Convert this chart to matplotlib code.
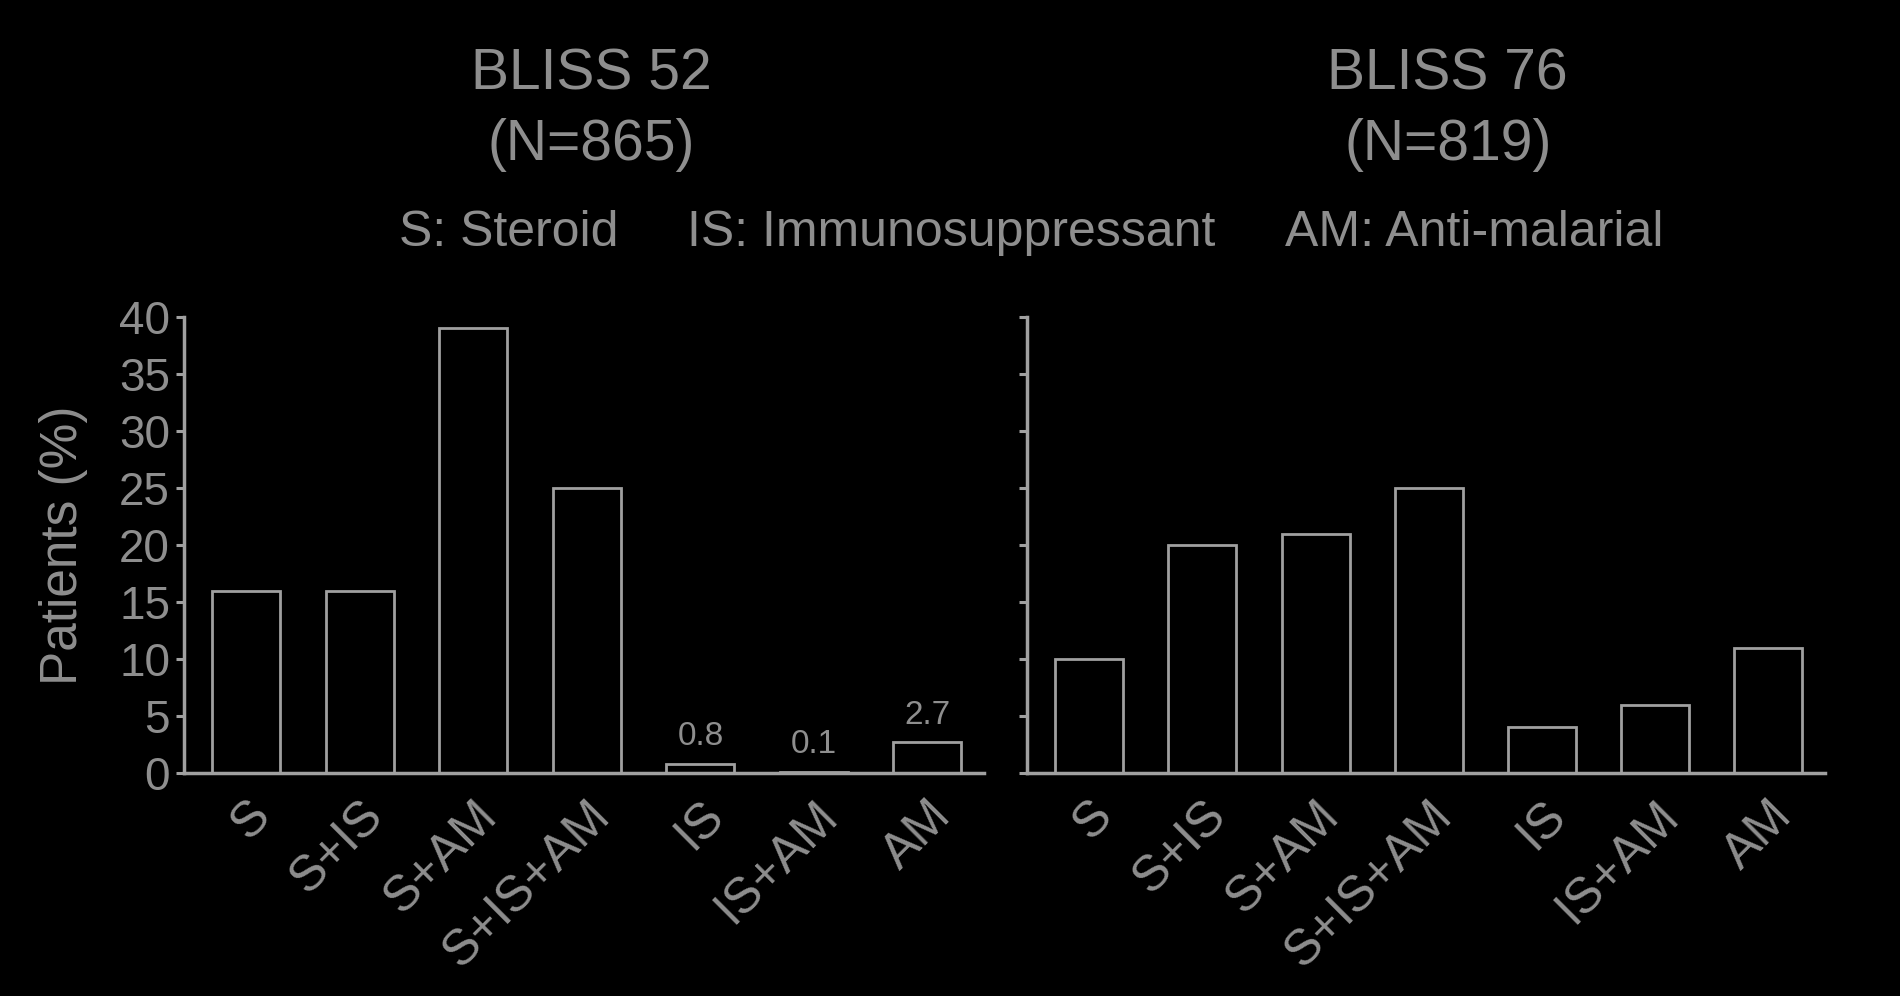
import matplotlib
matplotlib.use('Agg')
import matplotlib.pyplot as plt
import numpy as np

plt.rcParams['font.family'] = ['Liberation Sans', 'DejaVu Sans']

categories = ['S', 'S+IS', 'S+AM', 'S+IS+AM', 'IS', 'IS+AM', 'AM']
bliss52 = [16, 16, 39, 25, 0.8, 0.1, 2.7]
bliss76 = [10, 20, 21, 25, 4, 6, 11]
bliss52_labels = {4: '0.8', 5: '0.1', 6: '2.7'}
titles = ['BLISS 52', 'BLISS 76']
subtitles = ['(N=865)', '(N=819)']
legend_items = ['S: Steroid', 'IS: Immunosuppressant', 'AM: Anti-malarial']
yticks = [0, 5, 10, 15, 20, 25, 30, 35, 40]

grey = '#8e8e8e'
line = '#a0a0a0'

fig = plt.figure(figsize=(19, 9.96), dpi=100, facecolor='black')
ax1 = fig.add_axes([0.0968, 0.2239, 0.4212, 0.4578], facecolor='black')
ax2 = fig.add_axes([0.5405, 0.2239, 0.42, 0.4578], facecolor='black')

x = np.arange(len(categories))
for ax, vals in [(ax1, bliss52), (ax2, bliss76)]:
    ax.bar(x, vals, width=0.6, color='black', edgecolor=line, linewidth=2.0)
    ax.set_xlim(-0.55, 6.5)
    ax.set_ylim(0, 40)
    for s in ['top', 'right']:
        ax.spines[s].set_visible(False)
    for s in ['left', 'bottom']:
        ax.spines[s].set_color(line)
        ax.spines[s].set_linewidth(2.5)
    ax.set_yticks(yticks)
    ax.tick_params(axis='y', colors=line, length=6, width=2.2, labelsize=33,
                   labelcolor=grey, pad=4)
    ax.tick_params(axis='x', length=0, pad=14)
    ax.set_xticks(x)
    ax.set_xticklabels(categories, rotation=45, ha='right', va='top',
                       rotation_mode='anchor', fontsize=36, color=grey)

ax2.tick_params(axis='y', labelleft=False)
ax1.set_ylabel('Patients (%)', fontsize=37, color=grey, labelpad=22)

for i, txt in bliss52_labels.items():
    ax1.text(x[i], bliss52[i] + 1.0, txt, ha='center', va='bottom',
             fontsize=24, color=grey)

for cx, t, st in zip([0.311, 0.762], titles, subtitles):
    fig.text(cx, 0.9247, t, ha='center', va='center', fontsize=41, color=grey)
    fig.text(cx, 0.854, st, ha='center', va='center', fontsize=41, color=grey)

leg_x = [0.268, 0.5005, 0.7758]
for lx, txt in zip(leg_x, legend_items):
    fig.text(lx, 0.766, txt, ha='center', va='center', fontsize=36, color=grey)

fig.savefig('out.png', dpi=100, facecolor='black')
